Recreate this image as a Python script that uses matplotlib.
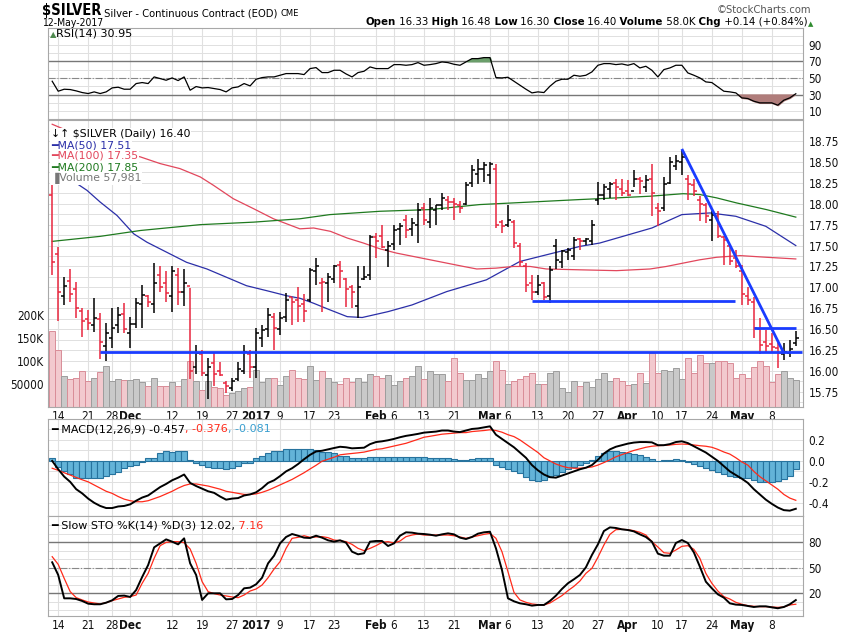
import numpy as np
import matplotlib
matplotlib.use('Agg')
import matplotlib.pyplot as plt
from matplotlib import font_manager as fm
from matplotlib.text import Annotation

plt.rcParams['font.family'] = ['DejaVu Sans']

# pick a narrow face for the axis and header texts
_names = {f.name for f in fm.fontManager.ttflist}
_cond = any(f.name == 'DejaVu Sans' and 'Condensed' in f.fname for f in fm.fontManager.ttflist)
if 'Liberation Sans Narrow' in _names:
    NARROW = dict(family=['Liberation Sans Narrow', 'DejaVu Sans'])
elif _cond:
    NARROW = dict(family=['DejaVu Sans'], stretch='condensed')
else:
    NARROW = dict(family=['Liberation Sans', 'DejaVu Sans'])

# daily bars, 11-Nov-2016 .. 12-May-2017
opens = [18.10, 17.40, 16.90, 17.08, 16.98, 16.72, 16.62, 16.55, 16.62, 16.30,
         16.40, 16.55, 16.68, 16.45, 16.56, 16.80, 16.90, 16.80, 17.15, 17.05,
         16.90, 17.15, 16.95, 17.02, 16.05, 16.20, 15.95, 16.10, 16.00, 15.86,
         15.80, 15.90, 16.00, 16.20, 16.05, 16.40, 16.50, 16.65, 16.50, 16.65,
         16.88, 16.85, 16.80, 16.85, 17.20, 17.05, 17.05, 17.10, 17.27, 17.10,
         17.00, 16.78, 17.10, 17.15, 17.60, 17.62, 17.45, 17.52, 17.70, 17.80,
         17.70, 17.75, 17.95, 17.78, 17.92, 17.98, 18.05, 18.02, 17.98, 18.00,
         18.25, 18.35, 18.42, 18.34, 18.42, 17.78, 17.75, 17.78, 17.50, 17.25,
         17.05, 16.95, 17.05, 16.90, 17.50, 17.30, 17.42, 17.38, 17.58, 17.55,
         17.55, 18.05, 18.10, 18.18, 18.25, 18.18, 18.15, 18.15, 18.30, 18.20,
         18.30, 17.95, 17.95, 18.25, 18.45, 18.50, 18.30, 18.22, 18.05, 17.98,
         17.80, 17.85, 17.60, 17.50, 17.35, 17.20, 16.90, 16.82, 16.50, 16.35,
         16.32, 16.28, 16.20, 16.22, 16.33]
highs = [18.26, 17.48, 17.13, 17.22, 17.07, 16.75, 16.73, 16.87, 16.69, 16.57,
         16.75, 16.77, 16.81, 16.65, 16.87, 17.03, 16.91, 17.29, 17.25, 17.19,
         17.25, 17.23, 17.22, 16.99, 16.31, 16.25, 16.15, 16.21, 16.11, 15.88,
         15.92, 16.11, 16.31, 16.25, 16.51, 16.55, 16.75, 16.69, 16.71, 16.93,
         16.89, 17.01, 16.92, 17.23, 17.35, 17.11, 17.17, 17.27, 17.31, 17.11,
         17.03, 17.25, 17.25, 17.63, 17.65, 17.75, 17.55, 17.75, 17.77, 17.87,
         17.83, 18.01, 18.01, 18.07, 17.99, 18.13, 18.09, 18.07, 18.03, 18.26,
         18.46, 18.53, 18.50, 18.50, 18.47, 17.81, 17.99, 17.81, 17.53, 17.29,
         17.15, 17.15, 17.07, 17.25, 17.58, 17.45, 17.47, 17.60, 17.59, 17.59,
         17.81, 18.26, 18.24, 18.26, 18.30, 18.30, 18.28, 18.40, 18.32, 18.34,
         18.47, 18.01, 18.32, 18.56, 18.58, 18.64, 18.34, 18.30, 18.09, 18.01,
         17.91, 17.91, 17.61, 17.51, 17.45, 17.27, 17.01, 16.89, 16.63, 16.49,
         16.45, 16.33, 16.33, 16.37, 16.48]
lows = [17.15, 16.60, 16.79, 16.83, 16.63, 16.41, 16.49, 16.47, 16.14, 16.12,
        16.28, 16.45, 16.45, 16.28, 16.51, 16.51, 16.77, 16.69, 16.95, 16.83,
        16.71, 16.79, 16.78, 15.90, 15.96, 15.94, 15.66, 15.82, 15.94, 15.74,
        15.76, 15.88, 15.96, 15.92, 15.92, 16.29, 16.41, 16.25, 16.43, 16.59,
        16.55, 16.59, 16.59, 16.83, 17.03, 16.71, 16.83, 17.05, 16.99, 16.77,
        16.75, 16.63, 17.09, 17.09, 17.35, 17.47, 17.24, 17.45, 17.51, 17.59,
        17.61, 17.53, 17.75, 17.71, 17.75, 17.93, 17.93, 17.81, 17.89, 17.99,
        18.20, 18.24, 18.26, 18.24, 17.71, 17.65, 17.72, 17.47, 17.25, 16.95,
        16.85, 16.91, 16.85, 16.81, 17.22, 17.23, 17.33, 17.33, 17.45, 17.51,
        17.51, 17.99, 18.05, 18.07, 18.05, 18.09, 18.09, 18.20, 18.12, 18.14,
        17.85, 17.73, 17.91, 18.24, 18.40, 18.34, 18.05, 18.09, 17.79, 17.77,
        17.55, 17.59, 17.27, 17.27, 17.23, 16.79, 16.79, 16.39, 16.20, 16.22,
        16.22, 16.04, 16.13, 16.17, 16.30]
closes = [17.30, 16.95, 17.02, 16.92, 16.75, 16.60, 16.57, 16.63, 16.35, 16.45,
          16.52, 16.67, 16.50, 16.56, 16.81, 16.91, 16.82, 17.05, 17.00, 16.93,
          17.20, 16.95, 17.05, 16.00, 16.21, 15.98, 16.05, 15.96, 15.95, 15.82,
          15.88, 16.02, 16.23, 16.05, 16.45, 16.49, 16.67, 16.51, 16.63, 16.85,
          16.83, 16.78, 16.72, 17.21, 17.25, 17.07, 17.12, 17.25, 17.20, 16.98,
          16.95, 17.00, 17.13, 17.60, 17.56, 17.48, 17.50, 17.69, 17.73, 17.69,
          17.77, 17.93, 17.80, 17.95, 17.98, 18.07, 18.02, 18.00, 17.95, 18.22,
          18.40, 18.42, 18.46, 18.47, 17.75, 17.73, 17.80, 17.53, 17.30, 17.03,
          16.95, 17.03, 16.89, 17.21, 17.33, 17.43, 17.45, 17.57, 17.55, 17.58,
          17.75, 18.11, 18.20, 18.24, 18.20, 18.13, 18.11, 18.30, 18.27, 18.28,
          18.13, 17.91, 18.24, 18.50, 18.51, 18.56, 18.24, 18.15, 18.00, 17.85,
          17.87, 17.61, 17.57, 17.31, 17.25, 16.92, 16.85, 16.51, 16.31, 16.30,
          16.29, 16.22, 16.23, 16.26, 16.40]
volume_k = [166, 125, 68, 61, 63, 79, 56, 63, 76, 89,
            56, 61, 59, 59, 61, 54, 46, 63, 46, 46,
            54, 46, 61, 100, 56, 38, 57, 44, 41, 26,
            31, 35, 41, 44, 81, 54, 64, 64, 48, 67,
            80, 62, 61, 90, 59, 78, 64, 55, 51, 64,
            55, 64, 55, 72, 67, 64, 70, 48, 57, 64,
            67, 89, 61, 78, 72, 72, 57, 106, 75, 59,
            59, 72, 62, 78, 99, 80, 50, 57, 61, 67,
            75, 50, 50, 75, 78, 41, 32, 57, 46, 55,
            43, 61, 73, 56, 64, 56, 48, 49, 75, 53,
            118, 75, 80, 78, 84, 61, 107, 75, 112, 95,
            95, 101, 101, 96, 64, 72, 62, 86, 100, 90,
            55, 72, 78, 64, 58]

# moving averages (sampled along the curves)
ma50_x = [0, 3.3, 5.8, 8, 10.8, 13.6, 15.8, 19.1, 22.4, 25.8, 29.1, 32.4, 35.8, 39.1,
          41.3, 43.6, 46, 49.2, 51.7, 56, 60, 65.8, 72.4, 78, 83, 88, 91.3, 100, 105,
          109.7, 114, 119, 124]
ma50_y = [18.45, 18.28, 18.16, 18.02, 17.86, 17.64, 17.54, 17.42, 17.30, 17.22, 17.12,
          17.02, 16.96, 16.90, 16.87, 16.81, 16.74, 16.65, 16.64, 16.71, 16.79, 16.95,
          17.09, 17.31, 17.40, 17.49, 17.53, 17.71, 17.87, 17.89, 17.85, 17.73, 17.50]
ma100_x = [0, 4, 8, 11.3, 14.7, 18, 21.3, 24.7, 26.9, 30.2, 33.6, 36.9, 41.3, 43.6,
           46.4, 49.2, 51.9, 54.7, 57.4, 60.2, 63, 65.8, 68.6, 70.8, 74, 76.9, 79.7,
           82.4, 88, 94.1, 99.7, 102.4, 105.2, 108, 110.8, 114.7, 119.1, 124]
ma100_y = [18.95, 18.83, 18.72, 18.62, 18.56, 18.48, 18.42, 18.32, 18.22, 18.06, 17.94,
           17.82, 17.70, 17.71, 17.67, 17.59, 17.53, 17.46, 17.41, 17.37, 17.33, 17.29,
           17.25, 17.22, 17.23, 17.25, 17.25, 17.22, 17.21, 17.20, 17.22, 17.25, 17.29,
           17.33, 17.36, 17.38, 17.36, 17.34]
ma200_x = [0, 8, 14.7, 24.7, 33.6, 41.3, 46.3, 54.7, 63, 71.3, 79.7, 88, 94.1, 99.7,
           105.2, 108, 110.8, 114.1, 119.1, 124]
ma200_y = [17.55, 17.61, 17.68, 17.75, 17.78, 17.82, 17.87, 17.91, 17.93, 17.99, 18.02,
           18.05, 18.07, 18.09, 18.12, 18.11, 18.07, 18.01, 17.93, 17.84]

# hand-drawn annotation lines
hl_level = [16.23, 16.84, 16.52]
hl_start = [8, 80, 117]
hl_end = [125, 113.9, 124]
trend_x = [105.1, 121.9]
trend_y = [18.64, 16.23]

rsi = [46, 34, 36.4, 36, 34.4, 32.4, 31.2, 33.2, 31.2, 33.2,
       38, 38.8, 36.4, 36.4, 43.2, 44.4, 43.2, 51.2, 49.2, 47.2,
       50, 46.8, 51.2, 35.2, 39.6, 38, 38.4, 37.2, 36, 33.2,
       38, 39.2, 43.2, 40.4, 48.4, 50.4, 51.2, 51.2, 53.2, 55.2,
       55.2, 55.2, 54, 61.2, 62.4, 56.4, 56.4, 59.2, 59.2, 54.8,
       51.2, 56.4, 58, 63.2, 61.2, 61.2, 61.2, 66, 66, 65.2,
       66, 68.4, 65.2, 66, 67.2, 69.2, 68.4, 66.4, 65.2, 69.2,
       73.2, 73.2, 74.4, 74.4, 50.4, 50, 50.8, 46, 41.2, 36.4,
       32, 33.2, 32.4, 40, 46, 48.4, 48.4, 53.2, 52, 53.2,
       57.2, 65.2, 67.2, 67.2, 66, 66.8, 65.2, 67.2, 62, 64,
       59.2, 51.2, 60, 62, 65.2, 65.2, 56, 53.2, 50, 45.2,
       44.4, 39.2, 34, 33.2, 32, 26, 25.2, 22, 20, 20,
       20, 17.2, 23.2, 26, 30.95]

macd = [0.0, -0.08, -0.15, -0.2, -0.27, -0.31, -0.36, -0.40, -0.43, -0.45,
        -0.45, -0.435, -0.43, -0.415, -0.38, -0.35, -0.33, -0.29, -0.25, -0.22,
        -0.185, -0.16, -0.13, -0.21, -0.24, -0.265, -0.29, -0.305, -0.34, -0.37,
        -0.36, -0.355, -0.33, -0.32, -0.30, -0.26, -0.21, -0.185, -0.145, -0.10,
        -0.07, -0.03, 0.016, 0.058, 0.09, 0.097, 0.11, 0.123, 0.135, 0.13,
        0.12, 0.123, 0.126, 0.16, 0.18, 0.187, 0.197, 0.21, 0.226, 0.239,
        0.248, 0.258, 0.27, 0.275, 0.28, 0.29, 0.29, 0.28, 0.275, 0.29,
        0.305, 0.31, 0.32, 0.33, 0.25, 0.21, 0.17, 0.13, 0.08, 0.03,
        -0.04, -0.09, -0.13, -0.155, -0.16, -0.14, -0.12, -0.1, -0.08, -0.065,
        -0.04, 0.01, 0.07, 0.11, 0.135, 0.15, 0.165, 0.175, 0.18, 0.18,
        0.177, 0.15, 0.15, 0.16, 0.18, 0.187, 0.17, 0.14, 0.11, 0.08,
        0.04, 0.0, -0.05, -0.1, -0.135, -0.17, -0.21, -0.27, -0.32, -0.37,
        -0.41, -0.445, -0.47, -0.475, -0.457]
signal = [-0.07, -0.09, -0.113, -0.135, -0.158, -0.18, -0.2, -0.23, -0.26, -0.29,
          -0.31, -0.34, -0.365, -0.38, -0.39, -0.39, -0.38, -0.36, -0.34, -0.315,
          -0.29, -0.26, -0.235, -0.22, -0.22, -0.23, -0.24, -0.255, -0.27, -0.29,
          -0.3, -0.31, -0.32, -0.32, -0.315, -0.3, -0.28, -0.255, -0.229, -0.203,
          -0.177, -0.145, -0.113, -0.077, -0.042, -0.003, 0.016, 0.035, 0.058, 0.065,
          0.071, 0.077, 0.084, 0.097, 0.11, 0.116, 0.129, 0.142, 0.155, 0.168,
          0.187, 0.206, 0.226, 0.235, 0.245, 0.255, 0.26, 0.265, 0.27, 0.27,
          0.28, 0.285, 0.29, 0.297, 0.29, 0.274, 0.25, 0.232, 0.2, 0.16,
          0.12, 0.08, 0.03, 0.0, -0.03, -0.05, -0.065, -0.07, -0.07, -0.065,
          -0.058, -0.04, -0.016, 0.01, 0.039, 0.06, 0.08, 0.1, 0.115, 0.13,
          0.14, 0.145, 0.148, 0.152, 0.158, 0.161, 0.158, 0.152, 0.145, 0.14,
          0.13, 0.11, 0.085, 0.065, 0.03, -0.01, -0.04, -0.1, -0.15, -0.19,
          -0.23, -0.27, -0.32, -0.355, -0.376]
hist = [0.03, -0.055, -0.097, -0.129, -0.161, -0.161, -0.168, -0.168, -0.161, -0.145,
        -0.123, -0.106, -0.065, -0.048, -0.039, -0.006, 0.023, 0.032, 0.074, 0.09,
        0.087, 0.09, 0.09, 0.01, -0.016, -0.039, -0.055, -0.068, -0.071, -0.081,
        -0.068, -0.048, -0.016, -0.016, 0.023, 0.048, 0.074, 0.09, 0.09, 0.11,
        0.113, 0.113, 0.113, 0.11, 0.1, 0.087, 0.087, 0.08, 0.05, 0.045,
        0.026, 0.026, 0.026, 0.035, 0.039, 0.039, 0.039, 0.039, 0.039, 0.039,
        0.039, 0.039, 0.035, 0.03, 0.03, 0.025, 0.025, 0.02, 0.005, 0.01,
        0.02, 0.025, 0.03, 0.03, -0.04, -0.06, -0.08, -0.1, -0.12, -0.15,
        -0.185, -0.19, -0.18, -0.15, -0.13, -0.11, -0.08, -0.06, -0.04, -0.02,
        0.01, 0.05, 0.08, 0.095, 0.095, 0.085, 0.075, 0.065, 0.055, 0.04,
        0.02, -0.005, 0.005, 0.01, 0.015, 0.01, -0.01, -0.03, -0.05, -0.07,
        -0.09, -0.11, -0.125, -0.14, -0.155, -0.16, -0.165, -0.18, -0.2, -0.2,
        -0.2, -0.19, -0.17, -0.14, -0.081]

sto_k = [56.5, 41.6, 14.1, 14.1, 13.3, 11, 7.8, 7.1, 7.1, 9,
         11.8, 16.9, 17.3, 15.7, 23.9, 39.2, 53.3, 74.1, 78.8, 83.5,
         80.8, 77.6, 84.7, 55.3, 41.6, 12.2, 20, 20, 20, 12.9,
         13.3, 18, 25.9, 26.7, 30.6, 38.4, 55.3, 64.3, 78.8, 86.3,
         89.8, 87.8, 85.5, 85.1, 87.8, 85.5, 82.4, 80.8, 82.4, 79.6,
         69, 65.9, 67.1, 80.8, 81.6, 81.6, 75.7, 78.8, 87.8, 91.8,
         91.4, 90.2, 89.8, 89, 87.8, 89.4, 90.6, 89.4, 85.5, 83.9,
         86.3, 90.2, 91.8, 92.5, 72.9, 47.5, 14.1, 10.6, 8.2, 7.1,
         5.5, 6.3, 6.3, 11, 17.3, 25.1, 31.8, 36.5, 41.6, 50.6,
         65.1, 77.6, 93.3, 97.6, 96.9, 95.3, 94.5, 92.9, 89.4, 86.3,
         80.8, 66.7, 64.3, 64.3, 79.2, 82.7, 79.2, 68.2, 51.4, 33.7,
         25.9, 18.8, 14.9, 8.2, 6.7, 6.3, 5.1, 3.9, 4.7, 4.7,
         3.5, 2.4, 3.9, 7.1, 12.02]
sto_d = [63.1, 54.1, 37.6, 22, 14.9, 12.2, 9.8, 8.6, 7.5, 9,
         11.4, 13.3, 15.3, 16.1, 18, 31.8, 43.5, 61.2, 76.1, 80,
         80.8, 80.8, 79.6, 72.2, 55.3, 33.7, 22, 19.6, 18, 16.9,
         15.7, 14.9, 18, 22.7, 25.1, 29.8, 38.4, 48.6, 57.3, 72.9,
         84.7, 85.9, 87.8, 85.9, 86.3, 86.7, 85.5, 82.7, 82, 80.8,
         77.6, 72.9, 70.2, 72.9, 76.1, 80, 80.8, 79.2, 81.6, 86.7,
         88.6, 89.8, 88.6, 88.6, 88.6, 88.6, 88.6, 87.8, 86.3, 84.7,
         86.3, 87.8, 89.4, 90.6, 84.7, 69, 45.5, 21.2, 12.2, 9.4,
         7.5, 6.7, 6.3, 8.6, 12.9, 17.3, 23.1, 28.2, 34.5, 43.5,
         49.4, 62.4, 76.9, 89.4, 94.9, 95.3, 94.9, 93.7, 91.8, 88.6,
         80.8, 74.5, 67.8, 67.1, 71, 75.3, 76.1, 71.8, 61.2, 43.5,
         31.8, 22.7, 16.1, 13.3, 9.4, 7.1, 5.5, 4.7, 4.3, 4.3,
         3.9, 3.5, 3.9, 6.3, 7.16]

date_idx = [1, 6, 10, 13, 20, 25, 30, 34, 38, 43, 47, 54, 57, 62, 67, 73, 76, 81,
            86, 91, 96, 101, 105, 110, 115, 120]
date_lbl = ['14', '21', '28', 'Dec', '12', '19', '27', '2017', '9', '17', '23', 'Feb',
            '6', '13', '21', 'Mar', '6', '13', '20', '27', 'Apr', '10', '17', '24',
            'May', '8']
bold_lbl = {'Dec', '2017', 'Feb', 'Mar', 'Apr', 'May'}

RED = '#e8263e'
BLUE_ANN = '#1a3cff'
GRID = '#e0e0e0'
W, H = 850, 633

x = np.arange(len(closes))
prev = [opens[0]] + closes[:-1]
down = np.array(closes) < np.array(prev)

fig = plt.figure(figsize=(8.5, 6.33), dpi=100)


def panel(top, bottom):
    return fig.add_axes([48 / W, 1 - bottom / H, 755 / W, (bottom - top) / H])


def style(ax, xlabels=False):
    ax.set_xlim(-0.7, 125.2)
    for s in ax.spines.values():
        s.set_color('#a8a8a8')
        s.set_linewidth(0.8)
    ax.yaxis.tick_right()
    ax.tick_params(length=0, pad=4, labelsize=8.5, colors='#111111')
    for t in ax.get_yticklabels():
        t.update(NARROW)
    ax.set_xticks(date_idx)
    ax.xaxis.grid(True, color=GRID, lw=0.8)
    ax.set_axisbelow(True)
    if xlabels:
        ax.set_xticklabels(date_lbl)
        ax.tick_params(axis='x', pad=2)
        for t in ax.get_xticklabels():
            t.update(NARROW)
            t.set_fontsize(8.5)
            if t.get_text() in bold_lbl:
                t.set_fontweight('bold')
    else:
        ax.set_xticklabels([])


# ---------------- RSI ----------------
ax_rsi = panel(28, 118.5)
rsi_a = np.array(rsi)
ax_rsi.plot(x, rsi_a, color='black', lw=0.9, zorder=3)
ax_rsi.fill_between(x, rsi_a, 70, where=rsi_a >= 70, interpolate=True, color='#6b9f6b', zorder=2)
ax_rsi.fill_between(x, rsi_a, 30, where=rsi_a <= 30, interpolate=True, color='#b07d7b', zorder=2)
ax_rsi.set_ylim(1.2, 110)
ax_rsi.set_yticks([10, 30, 50, 70, 90])
for lv in range(10, 110, 10):
    ax_rsi.axhline(lv, color=GRID, lw=0.7, zorder=0)
ax_rsi.axhline(70, color='#777777', lw=1.0, zorder=1)
ax_rsi.axhline(30, color='#777777', lw=1.0, zorder=1)
ax_rsi.axhline(50, color='#888888', lw=0.8, ls='-.', zorder=1)
style(ax_rsi)

# ---------------- price + volume ----------------
ax_p = panel(119.5, 407)
VOL_TOP = 625.0
vol_frac = np.array(volume_k) / VOL_TOP
ax_p.bar(x, vol_frac, width=1.0, bottom=0, transform=ax_p.get_xaxis_transform(),
         color=np.where(down, '#f2c9ce', '#c9c9c9'),
         edgecolor=np.where(down, '#d98d98', '#9d9d9d'), linewidth=0.7, zorder=1)
bar_col = np.where(down, RED, 'black')
ax_p.vlines(x, lows, highs, colors=bar_col, lw=1.1, zorder=4)
ax_p.hlines(opens, x - 0.5, x, colors=bar_col, lw=1.1, zorder=4)
ax_p.hlines(closes, x, x + 0.5, colors=bar_col, lw=1.1, zorder=4)
ax_p.plot(ma50_x, ma50_y, color='#2b2fa8', lw=0.9, zorder=3)
ax_p.plot(ma100_x, ma100_y, color='#e2475c', lw=0.9, zorder=3)
ax_p.plot(ma200_x, ma200_y, color='#1f7a1f', lw=0.9, zorder=3)
for lv, a, b in zip(hl_level, hl_start, hl_end):
    ax_p.hlines(lv, a, b, color=BLUE_ANN, lw=2.0, zorder=5)
ax_p.plot(trend_x, trend_y, color=BLUE_ANN, lw=2.0, zorder=5)
ax_p.set_ylim(15.57, 19.007)
ax_p.set_yticks(np.arange(15.75, 18.76, 0.25))
ax_p.set_yticklabels(['%.2f' % v for v in np.arange(15.75, 18.76, 0.25)])
for lv in np.arange(15.625, 19.0, 0.125):
    ax_p.axhline(lv, color=GRID, lw=0.7, zorder=0)
style(ax_p, xlabels=True)

p_lo, p_hi = 15.57, 19.007
ax_v = ax_p.secondary_yaxis('left', functions=(
    lambda p: (p - p_lo) / (p_hi - p_lo) * VOL_TOP,
    lambda v: p_lo + v / VOL_TOP * (p_hi - p_lo)))
ax_v.set_yticks([50, 100, 150, 200])
ax_v.set_yticklabels(['50000', '100K', '150K', '200K'])
ax_v.tick_params(length=0, pad=3, labelsize=8.5, colors='#111111')
for t in ax_v.get_yticklabels():
    t.update(NARROW)
ax_v.spines['left'].set_visible(False)

# ---------------- MACD ----------------
ax_m = panel(419, 516)
ax_m.bar(x, hist, width=1.0, color='#63b3d8', edgecolor='#27739e', linewidth=0.8, zorder=2)
ax_m.plot(x, signal, color='#ff2a1a', lw=0.9, zorder=3)
ax_m.plot(x, macd, color='black', lw=1.4, zorder=4)
ax_m.set_ylim(-0.526, 0.40)
ax_m.set_yticks([-0.4, -0.2, 0.0, 0.2])
ax_m.set_yticklabels(['-0.4', '-0.2', '0.0', '0.2'])
for lv in [-0.4, -0.3, -0.2, -0.1, 0.0, 0.1, 0.2, 0.3]:
    ax_m.axhline(lv, color=GRID, lw=0.7, zorder=0)
style(ax_m)

# ---------------- Slow STO ----------------
ax_s = panel(516, 616)
ax_s.plot(x, sto_d, color='#ff2a1a', lw=0.9, zorder=3)
ax_s.plot(x, sto_k, color='black', lw=1.4, zorder=4)
ax_s.set_ylim(-6.7, 111)
ax_s.set_yticks([20, 50, 80])
for lv in range(0, 110, 10):
    ax_s.axhline(lv, color=GRID, lw=0.7, zorder=0)
ax_s.axhline(80, color='#777777', lw=1.0, zorder=1)
ax_s.axhline(20, color='#777777', lw=1.0, zorder=1)
ax_s.axhline(50, color='#888888', lw=0.8, ls='-.', zorder=1)
style(ax_s, xlabels=True)


# ---------------- texts ----------------
def fx(px):
    return px / W


def fy(py):
    return 1 - py / H


def after(prev_t, s, right=False, **kw):
    # next piece of text on the same line, left or right of prev_t
    a = Annotation(s, xy=(0, 0) if right else (1, 0), xycoords=prev_t, va='bottom',
                   ha='right' if right else 'left', annotation_clip=False, zorder=10, **kw)
    fig.add_artist(a)
    return a


t = fig.text(fx(42), fy(15), '$SILVER', fontsize=10.5, fontweight='bold', va='baseline', **NARROW)
t = after(t, ' Silver - Continuous Contract (EOD) ', fontsize=8, **NARROW)
after(t, 'CME', fontsize=6)
fig.text(fx(42), fy(26), '12-May-2017', fontsize=7.5, va='baseline', **NARROW)
fig.text(fx(811), fy(13), '\u00a9StockCharts.com', fontsize=8, color='#555555',
         ha='right', va='baseline', **NARROW)

# right-aligned quote line, built from the right end
t = fig.text(fx(813), fy(26), '\u25b2', fontsize=5, color='#2e8b2e', ha='right', va='baseline')
pieces = [('Open', '16.33'), ('High', '16.48'), ('Low', '16.30'), ('Close', '16.40'),
          ('Volume', '58.0K'), ('Chg', '+0.14 (+0.84%)')]
for lab, val in reversed(pieces):
    t = after(t, ' ' + val, right=True, fontsize=8.2, **NARROW)
    t = after(t, (' ' if lab != 'Open' else '') + lab, right=True, fontsize=8.2,
              fontweight='bold', **NARROW)

# RSI label
t = fig.text(fx(50), fy(37), '\u25b2', fontsize=6, color='#4f8a4f', va='baseline')
after(t, 'RSI(14) 30.95', fontsize=8)

# price legend
leg_bg = dict(facecolor='white', edgecolor='none', pad=0.6)
fig.text(fx(51), fy(137), '\u2193\u2191 $SILVER (Daily) 16.40', fontsize=7.8, va='baseline',
         bbox=leg_bg, zorder=6)
for yy, lab, col in [(148, 'MA(50) 17.51', '#2b2fa8'), (159, 'MA(100) 17.35', '#e2475c'),
                     (170, 'MA(200) 17.85', '#1f7a1f'), (181, 'Volume 57,981', '#777777')]:
    mark = '\u2590' if lab.startswith('Volume') else '\u2501'
    fig.text(fx(51), fy(yy), mark + lab, fontsize=7.8, color=col, va='baseline', bbox=leg_bg, zorder=6)

# MACD label
t = fig.text(fx(51), fy(432), '\u2501 MACD(12,26,9) -0.457', fontsize=8, va='baseline', zorder=10)
t = after(t, ', -0.376', fontsize=8, color='#ff2a1a')
after(t, ', -0.081', fontsize=8, color='#3a9fd0')

# STO label
t = fig.text(fx(51), fy(529), '\u2501 Slow STO %K(14) %D(3) 12.02,', fontsize=8, va='baseline',
             zorder=10)
after(t, ' 7.16', fontsize=8, color='#ff2a1a')

fig.savefig('out.png', dpi=100)
